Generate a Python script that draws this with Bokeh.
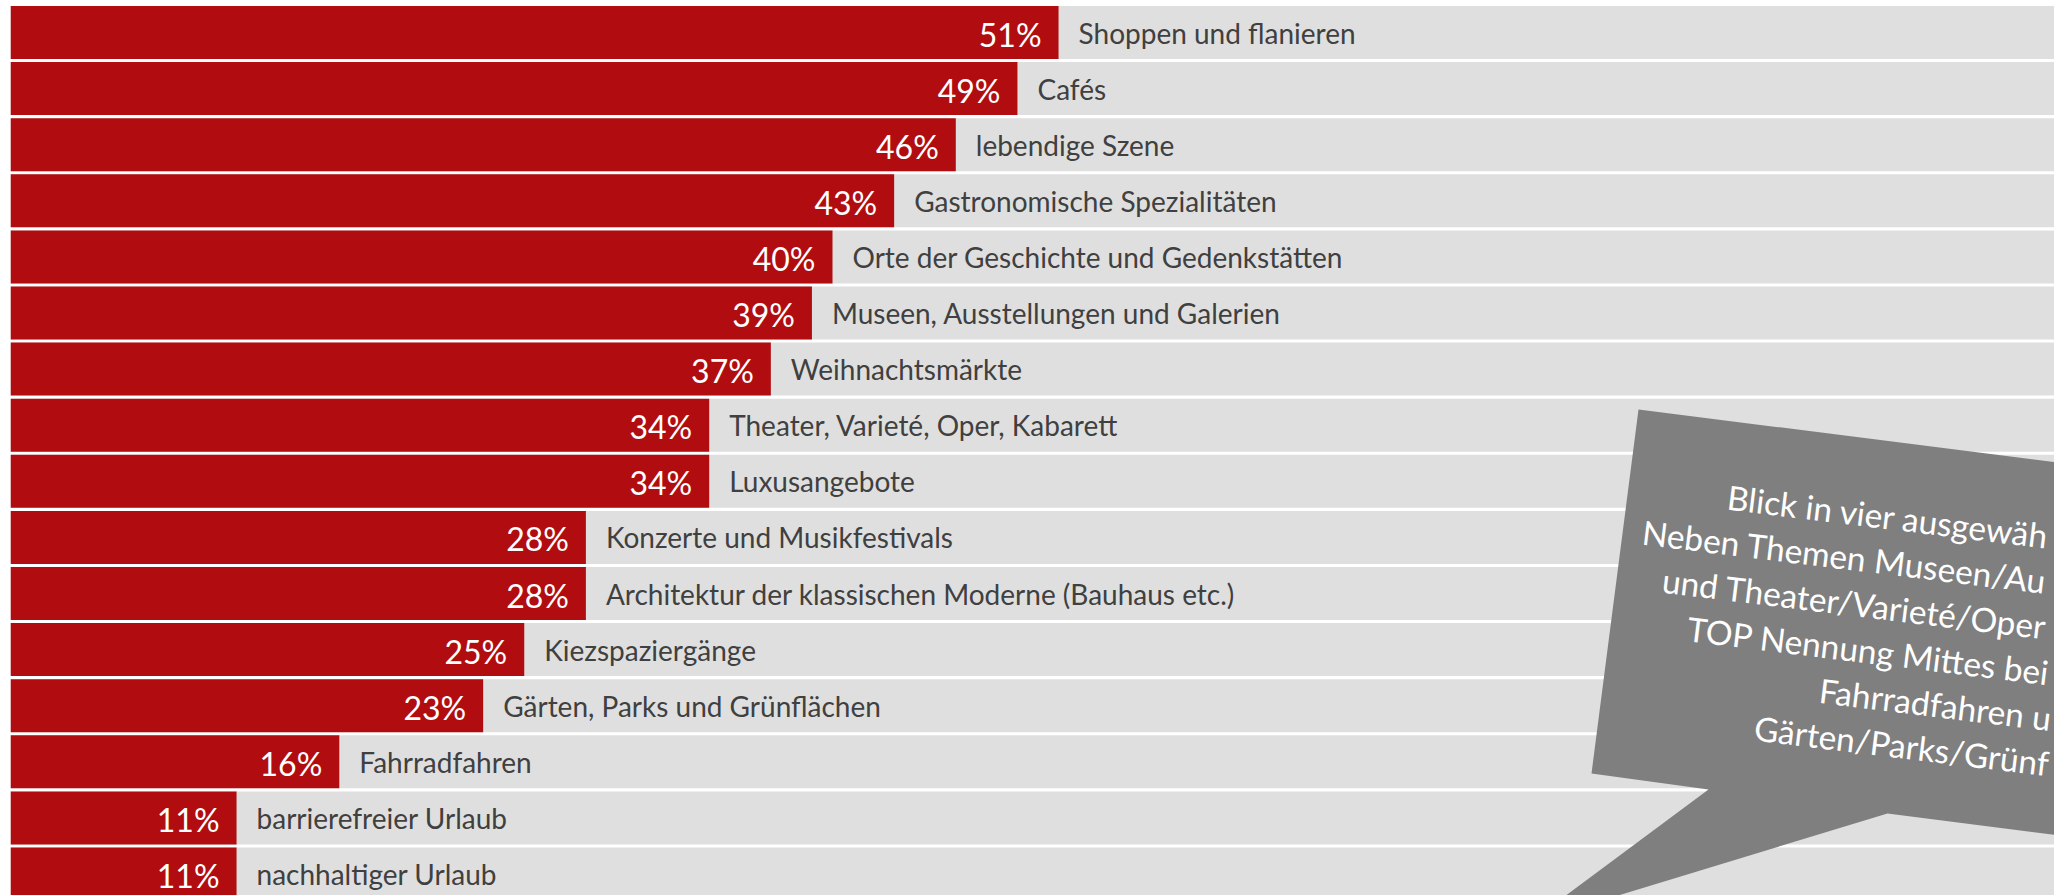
from bokeh.plotting import figure
from bokeh.models import Range1d, ColumnDataSource
from bokeh.embed import file_html
from bokeh.resources import INLINE
from bokeh.core.properties import value

# ---------------- data ----------------
categories = [
    "Shoppen und flanieren",
    "Cafés",
    "lebendige Szene",
    "Gastronomische Spezialitäten",
    "Orte der Geschichte und Gedenkstätten",
    "Museen, Ausstellungen und Galerien",
    "Weihnachtsmärkte",
    "Theater, Varieté, Oper, Kabarett",
    "Luxusangebote",
    "Konzerte und Musikfestivals",
    "Architektur der klassischen Moderne (Bauhaus etc.)",
    "Kiezspaziergänge",
    "Gärten, Parks und Grünflächen",
    "Fahrradfahren",
    "barrierefreier Urlaub",
    "nachhaltiger Urlaub",
]
values = [51, 49, 46, 43, 40, 39, 37, 34, 34, 28, 28, 25, 23, 16, 11, 11]
pct_labels = [f"{v}%" for v in values]

callout_lines = [
    "Blick in vier ausgewäh",
    "Neben Themen Museen/Au",
    "und Theater/Varieté/Oper",
    "TOP Nennung Mittes bei",
    "Fahrradfahren u",
    "Gärten/Parks/Grünf",
]

# ---------------- layout ----------------
W, H = 2054, 895
LEFT = 10                # frame starts 10px from page edge
PX_PER_UNIT = 20.55      # horizontal pixels per percent
ROW_PITCH = 56.1         # vertical pixels per row
ROW0_CENTER = 32.0       # px of first row center
BAR_H = 53.0 / ROW_PITCH
BASE_FIX = 11.0          # renderer places alphabetic baseline lower

x_end = (W - LEFT) / PX_PER_UNIT
y_top = -ROW0_CENTER / ROW_PITCH
y_bot = (H - ROW0_CENTER) / ROW_PITCH

def dx(px):  # page px -> data x
    return (px - LEFT) / PX_PER_UNIT

def dy(py):  # page px -> data y
    return (py - ROW0_CENTER) / ROW_PITCH

RED = "#B10D10"
BG = "#DFDFDF"
TXT = "#404040"
BUBBLE = "#7F7F7F"
FONT = "Lato"

idx = list(range(len(categories)))
src = ColumnDataSource(dict(
    y=idx,
    v=values,
    full=[100] * len(values),
    cat=categories,
    pct=pct_labels,
    y_pct=[i + (12.5 - BASE_FIX) / ROW_PITCH for i in idx],
    y_cat=[i + (11.0 - BASE_FIX) / ROW_PITCH for i in idx],
))

p = figure(width=W, height=H, output_backend="svg", toolbar_location=None,
           x_range=Range1d(0, x_end), y_range=Range1d(y_bot, y_top),
           min_border_left=LEFT, min_border_right=0, min_border_top=0,
           min_border_bottom=0)
p.axis.visible = False
p.grid.visible = False
p.outline_line_color = None
p.background_fill_color = "white"
p.border_fill_color = "white"

p.hbar(y="y", left=0, right="full", height=BAR_H, source=src,
       fill_color=BG, line_color=None)
p.hbar(y="y", left=0, right="v", height=BAR_H, source=src,
       fill_color=RED, line_color=None)

p.text(x="v", y="y_pct", text="pct", source=src, x_offset=-17,
       text_align="right", text_baseline="alphabetic",
       text_font=value(FONT), text_font_size="32px", text_color="white")
p.text(x="v", y="y_cat", text="cat", source=src, x_offset=20,
       text_align="left", text_baseline="alphabetic",
       text_font=value(FONT), text_font_size="28px", text_color=TXT)

# ---------------- callout bubble ----------------
bubble_px = [(1638, 409), (2200, 480), (2200, 853), (1887, 813),
             (1529, 922), (1708, 789), (1591, 773)]
p.patch([dx(a) for a, b in bubble_px], [dy(b) for a, b in bubble_px],
        fill_color=BUBBLE, line_color=None)

line_starts_px = [(1727, 507), (1642, 542), (1662, 590), (1687, 638.6),
                  (1819, 700.3), (1754, 737.8)]
p.text(x=[dx(a) for a, b in line_starts_px],
       y=[dy(b - BASE_FIX) for a, b in line_starts_px],
       text=callout_lines, angle=-0.122, text_align="left",
       text_baseline="alphabetic", text_font=value(FONT),
       text_font_size="33.5px", text_color="white")

open("out.html", "w").write(file_html(p, INLINE))
